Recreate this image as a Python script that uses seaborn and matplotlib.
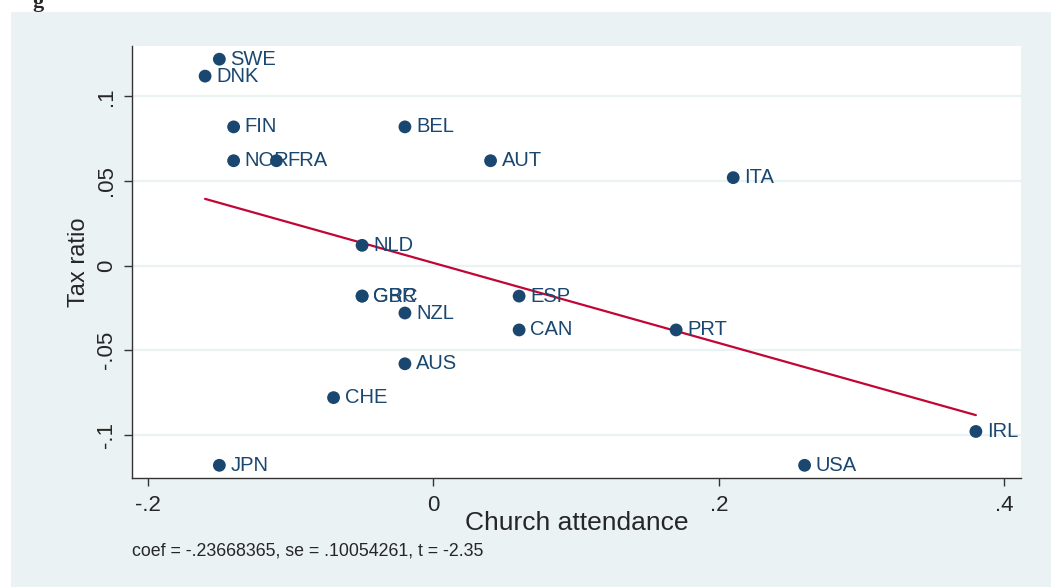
import numpy as np
import pandas as pd
import matplotlib.pyplot as plt
import seaborn as sns
from matplotlib.patches import Rectangle

countries = ['SWE', 'DNK', 'FIN', 'NOR', 'FRA', 'BEL', 'AUT', 'ITA', 'NLD', 'GBR',
             'GRC', 'ESP', 'NZL', 'CAN', 'PRT', 'AUS', 'CHE', 'IRL', 'JPN', 'USA']
church = [-0.15, -0.16, -0.14, -0.14, -0.11, -0.02, 0.04, 0.21, -0.05, -0.05,
          -0.05, 0.06, -0.02, 0.06, 0.17, -0.02, -0.07, 0.38, -0.15, 0.26]
tax = [0.122, 0.112, 0.082, 0.062, 0.062, 0.082, 0.062, 0.052, 0.012, -0.018,
       -0.018, -0.018, -0.028, -0.038, -0.038, -0.058, -0.078, -0.098, -0.118, -0.118]
coef = -0.23668365
note = 'coef = -.23668365, se = .10054261, t = -2.35'

xticks = [-0.2, 0, 0.2, 0.4]
xtick_labels = ['-.2', '0', '.2', '.4']
yticks = [-0.1, -0.05, 0, 0.05, 0.1]
ytick_labels = ['-.1', '-.05', '0', '.05', '.1']

df = pd.DataFrame({'pais': countries, 'igreja': church, 'imposto': tax})

# Linha ajustada passando pela média
xs = np.array([df['igreja'].min(), df['igreja'].max()])
ys = df['imposto'].mean() + coef * (xs - df['igreja'].mean())
linha = pd.DataFrame({'x': xs, 'y': ys})

sns.set_style('white')
plt.rcParams['font.family'] = ['Liberation Sans', 'DejaVu Sans']

navy = '#1a476f'
bg = '#eaf2f3'

fig = plt.figure(figsize=(10.51, 5.87), dpi=100)
fig.patch.set_facecolor('white')
fig.patches.append(Rectangle((11 / 1051, 0), 1, 1 - 12 / 587, transform=fig.transFigure,
                             facecolor=bg, edgecolor='none', zorder=-10))
# resto de uma legenda cortada no topo da imagem original
fig.text(32 / 1051, 1 - 7 / 587, 'g', fontsize=16, fontweight='bold',
         family='Liberation Serif', va='baseline', ha='left')

ax = fig.add_axes([132 / 1051, 1 - 478 / 587, (1020.7 - 132) / 1051, (478 - 46) / 587])
ax.set_facecolor('white')

sns.lineplot(data=linha, x='x', y='y', color='#c10534', linewidth=1.6, ax=ax, zorder=2)
sns.scatterplot(data=df, x='igreja', y='imposto', color=navy, s=85, edgecolor='none',
                ax=ax, zorder=3)

for _, r in df.iterrows():
    ax.annotate(r['pais'], (r['igreja'], r['imposto']), xytext=(8, 0),
                textcoords='offset points', va='center', ha='left',
                fontsize=14.5, color=navy, zorder=4)

ax.set_xlim(-0.2112, 0.4114)
ax.set_ylim(-0.1255, 0.1298)
ax.set_xticks(xticks)
ax.set_xticklabels(xtick_labels, fontsize=16)
ax.set_yticks(yticks)
ax.set_yticklabels(ytick_labels, fontsize=16, rotation=90, va='center')

for y in yticks:
    ax.axhline(y, color=bg, linewidth=1.6, zorder=1)

for side in ['top', 'right']:
    ax.spines[side].set_visible(False)
for side in ['left', 'bottom']:
    ax.spines[side].set_color('#333333')
    ax.spines[side].set_linewidth(1.0)
ax.tick_params(axis='both', direction='out', length=6, width=1.0, color='#333333',
               bottom=True, left=True)
ax.tick_params(axis='x', pad=6)
ax.tick_params(axis='y', pad=5)

ax.set_xlabel('Church attendance', fontsize=19, labelpad=-3)
ax.set_ylabel('Tax ratio', fontsize=17, labelpad=4)

fig.text(132 / 1051, 1 - 551 / 587, note, fontsize=12.8, va='center', ha='left')

fig.savefig('out.png', dpi=100, facecolor=fig.get_facecolor())
